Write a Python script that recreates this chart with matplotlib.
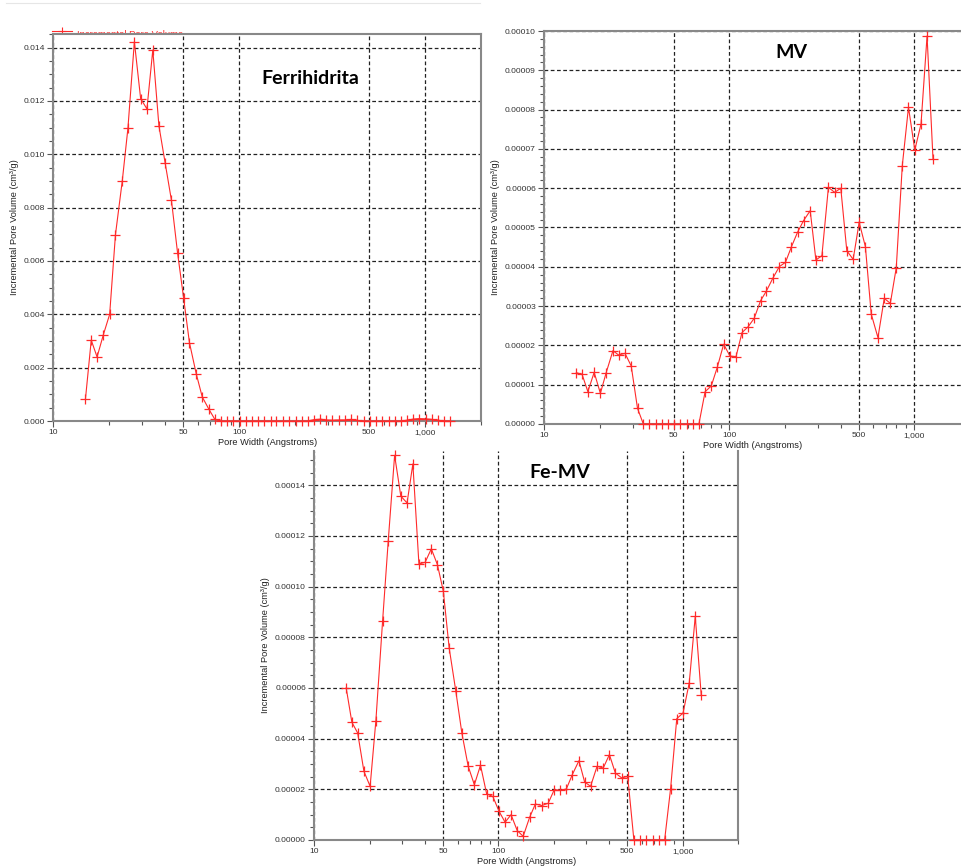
import matplotlib
matplotlib.use('Agg')
import matplotlib.pyplot as plt
from matplotlib.ticker import FixedLocator, MultipleLocator, NullFormatter, FormatStrFormatter
from matplotlib.lines import Line2D

plt.rcParams['font.family'] = ['Liberation Sans', 'DejaVu Sans']

W, H = 961.0, 866.0

# pore width bins (Angstroms), shared by the three samples
width = [14.9, 16.0, 17.2, 18.6, 20.1, 21.6, 23.5, 25.2, 27.3, 29.5,
         31.9, 34.3, 37.0, 40.0, 43.2, 46.6, 50.2, 54.0, 58.7, 63.3,
         68.5, 74.0, 79.9, 86.3, 93.2, 100.8, 108.7, 117.1, 126.5, 136.3,
         147.6, 158.7, 171.8, 186.3, 201.2, 216.8, 233.7, 251.9, 273.7, 293.8,
         316.6, 343.3, 370.8, 400.5, 431.6, 467.2, 503.5, 544, 585, 636,
         688, 742, 799, 861, 930, 1006, 1087, 1172, 1262]
width_ferri = width + [1360]

# incremental pore volume (cm3/g)
ferri = [0.00084, 0.00303, 0.00240, 0.00324, 0.00400, 0.00699, 0.00900, 0.01097, 0.01422, 0.01209,
         0.01170, 0.01391, 0.01107, 0.00966, 0.00828, 0.00631, 0.00463, 0.00294, 0.00178, 0.00090,
         0.00046, 0.00006, 0, 0, 0, 0, 0, 0, 0, 0,
         0, 0, 0, 0, 0, 0, 0, 0.00005, 0.00007, 0.00004,
         0.00003, 0.00004, 0.00004, 0.00006, 0.00002, 0, 0, 0, 0, 0,
         0, 0, 0.00003, 0.00007, 0.00009, 0.00008, 0.00006, 0.00003, 0, 0]

# MV and Fe-MV in units of 1e-5 cm3/g
mv = [1.306, 1.264, 0.823, 1.315, 0.78, 1.306, 1.866, 1.756, 1.798, 1.476,
      0.399, 0, 0, 0, 0, 0, 0, 0, 0, 0,
      0, 0.823, 0.967, 1.459, 2.03, 1.73, 1.713, 2.324, 2.477, 2.689,
      3.138, 3.384, 3.707, 4.003, 4.114, 4.512, 4.877, 5.174, 5.428, 4.173,
      4.283, 6.022, 5.895, 5.997, 4.41, 4.19, 5.131, 4.512, 2.799, 2.197,
      3.198, 3.07, 3.978, 6.573, 8.058, 6.972, 7.634, 9.873, 6.743]

femv = [6.0, 4.645, 4.224, 2.711, 2.118, 4.711, 8.658, 11.79, 15.18, 13.57,
        13.30, 14.84, 10.89, 10.96, 11.49, 10.87, 9.82, 7.58, 5.87, 4.22,
        2.91, 2.18, 2.95, 1.82, 1.72, 1.13, 0.70, 1.0, 0.37, 0.145,
        0.89, 1.42, 1.36, 1.45, 1.99, 1.96, 2.01, 2.58, 3.13, 2.29,
        2.12, 2.91, 2.84, 3.37, 2.64, 2.45, 2.51, 0, 0, 0,
        0, 0, 0, 2.03, 4.79, 5.01, 6.20, 8.83, 5.74]

mv = [v * 1e-5 for v in mv]
femv = [v * 1e-5 for v in femv]

x_ticks = [10, 50, 100, 500, 1000]
x_ticklabels = ['10', '50', '100', '500', '1,000']
x_minor = [20, 30, 40, 60, 70, 80, 90, 200, 300, 400, 600, 700, 800, 900, 2000]

red = '#ff2a2a'


def box(left, top, right, bottom):
    return [left / W, 1 - bottom / H, (right - left) / W, (bottom - top) / H]


def style(ax, xmax, ymax, ystep, yminor, yfmt):
    ax.set_xscale('log')
    ax.set_xlim(10, xmax)
    ax.set_ylim(0, ymax)
    ax.xaxis.set_major_locator(FixedLocator(x_ticks))
    ax.set_xticklabels(x_ticklabels)
    ax.xaxis.set_minor_locator(FixedLocator(x_minor))
    ax.xaxis.set_minor_formatter(NullFormatter())
    ax.yaxis.set_major_locator(MultipleLocator(ystep))
    ax.yaxis.set_minor_locator(MultipleLocator(yminor))
    ax.yaxis.set_major_formatter(FormatStrFormatter(yfmt))
    ax.tick_params(which='both', direction='out', color='#555555', width=0.8,
                   labelsize=6.1, labelcolor='#333333', pad=2)
    ax.tick_params(which='major', length=4)
    ax.tick_params(which='minor', length=3)
    ax.grid(True, which='major', color='#222222', linestyle=(0, (3, 2)), linewidth=0.9)
    for sp in ax.spines.values():
        sp.set_color('#888888')
        sp.set_linewidth(1.5)
    ax.set_xlabel('Pore Width (Angstroms)', fontsize=6.7, color='#222222', labelpad=1)
    ax.set_ylabel('Incremental Pore Volume (cm³/g)', fontsize=6.7, color='#222222', labelpad=3.5)


def curve(ax, x, y):
    ax.plot(x, y, color=red, lw=0.8, marker='+', ms=7, mew=0.9, clip_on=False, zorder=3)


def title(x, y, s):
    fig.text(x / W, 1 - y / H, s, family=['Lato', 'DejaVu Sans'], fontweight='bold',
             fontsize=14, ha='center', va='center')


fig = plt.figure(figsize=(9.61, 8.66), dpi=100)

# Ferrihidrita
ax1 = fig.add_axes(box(53.3, 34, 481, 421))
style(ax1, 2000, 0.01451, 0.002, 0.0005, '%.3f')
curve(ax1, width_ferri, ferri)
title(310, 79, 'Ferrihidrita')

# MV
ax2 = fig.add_axes(box(544.3, 31, 961, 424))
style(ax2, 1788, 0.0001, 0.00001, 0.000002, '%.5f')
ax2.spines['right'].set_visible(False)
curve(ax2, width, mv)
title(791, 52, 'MV')

# Fe-MV
ax3 = fig.add_axes(box(314.3, 451, 738, 840))
style(ax3, 2000, 0.0001535, 0.00002, 0.000005, '%.5f')
ax3.spines['top'].set_visible(False)
curve(ax3, width, femv)
title(560, 472, 'Fe-MV')

# legend of the first panel, partly hidden behind the axes
fig.add_artist(Line2D([52 / W, 72 / W], [1 - 31 / H, 1 - 31 / H], color=red, lw=0.8, zorder=-1))
fig.add_artist(Line2D([62 / W], [1 - 31 / H], color=red, marker='+', ms=6, mew=0.8, zorder=-1))
fig.text(77 / W, 1 - 37 / H, 'Incremental Pore Volume', color=red, fontsize=6.8,
         va='baseline', ha='left', zorder=-1)
fig.add_artist(Line2D([6 / W, 480 / W], [1 - 3 / H, 1 - 3 / H], color='#e6e6e6', lw=0.8))

fig.savefig('out.png', dpi=100)
